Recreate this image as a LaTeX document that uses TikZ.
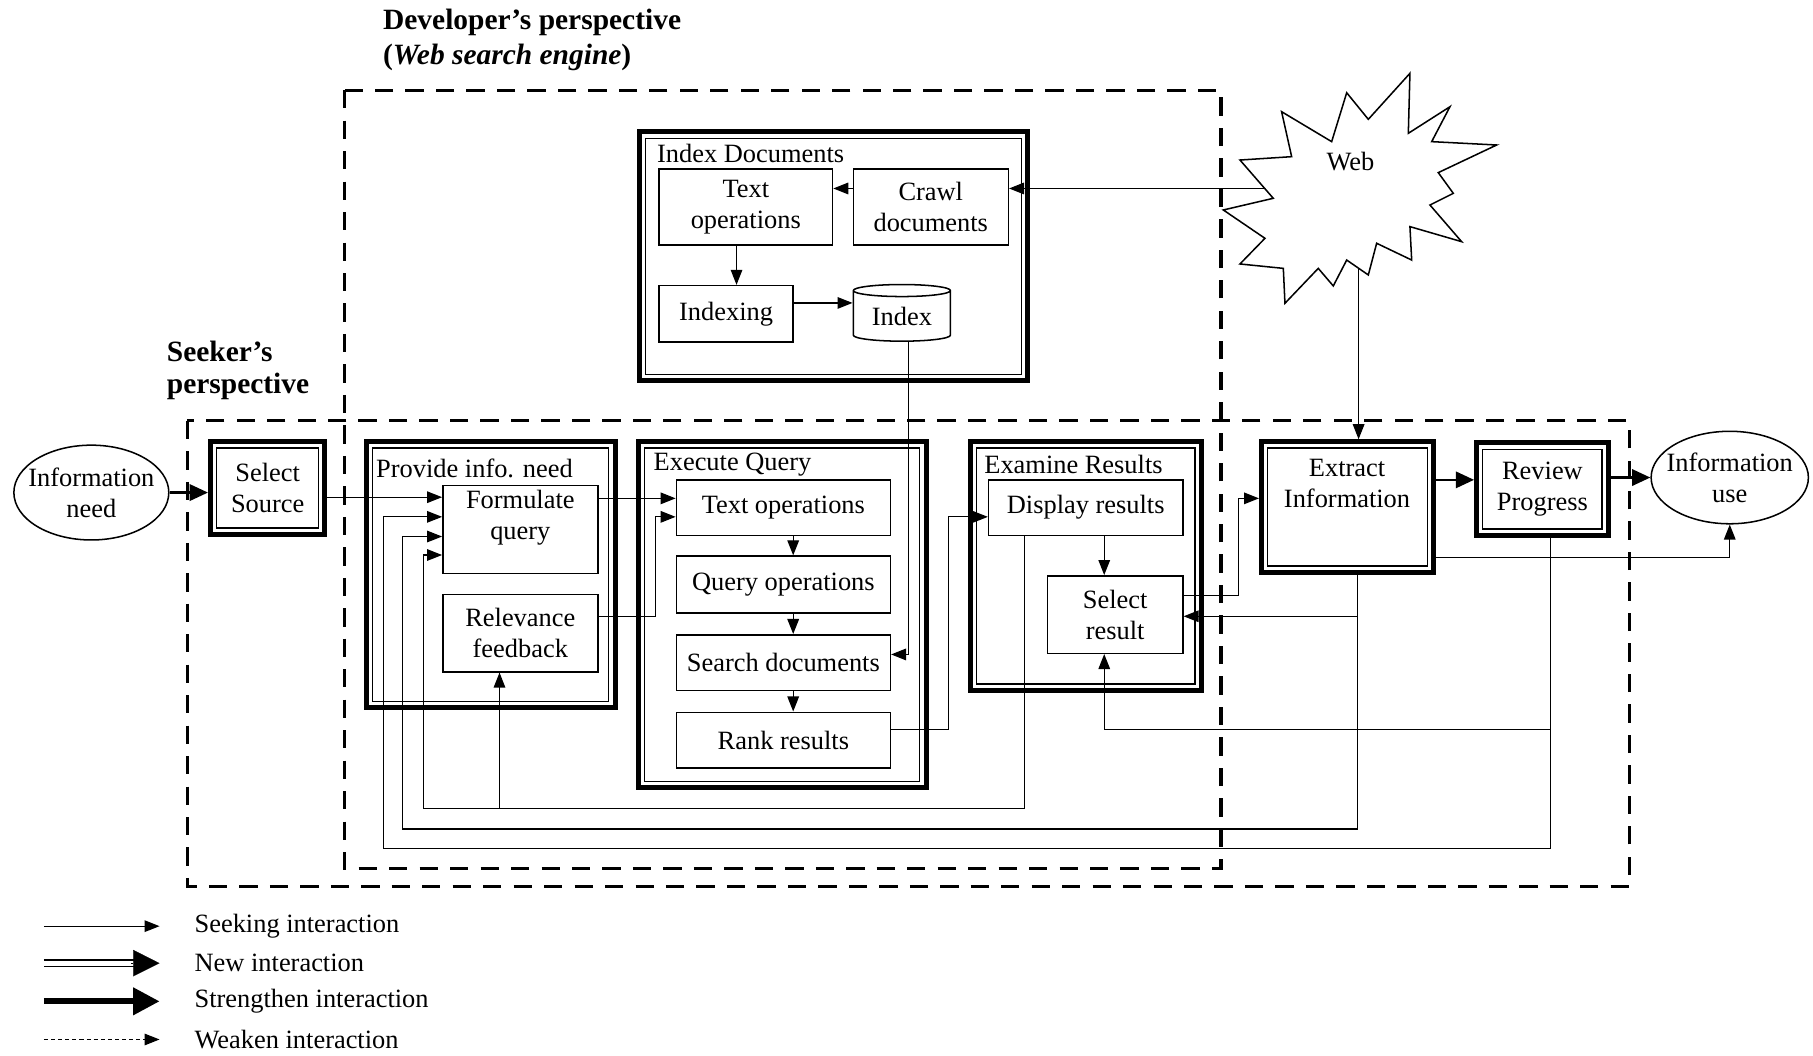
\documentclass[tikz,border=0pt]{standalone}
\usepackage{fontspec}
\setmainfont{Liberation Serif}
\usetikzlibrary{arrows.meta,fit,shapes.geometric}
\newlength\unitpx
\setlength\unitpx{0.02cm}

\begin{document}
\begin{tikzpicture}[
  x=0.02cm, y=-0.02cm,
  font=\fontsize{13}{15.3}\selectfont,
  every node/.style={inner sep=0pt},
  wh/.style 2 args={minimum width=#1*\unitpx, minimum height=#2*\unitpx},
  box/.style={draw, line width=0.75pt, align=center},
  dbox/.style={draw, line width=2.4pt, align=center,
    path picture={\draw[line width=0.6pt]
      ([shift={(3.1pt,-3.1pt)}]path picture bounding box.north west) rectangle
      ([shift={(-3.1pt,3.1pt)}]path picture bounding box.south east);}},
  oval/.style={draw, ellipse, line width=0.75pt, align=center, inner xsep=-5pt},
  title/.style={anchor=west, font=\fontsize{14.5}{17}\selectfont\bfseries},
  frame/.style={line width=1.5pt, dash pattern=on 9pt off 6pt},
  seeking/.style={line width=0.6pt, -{Triangle[length=7.4pt,width=5.7pt]}},
  strong/.style={line width=1.3pt, -{Triangle[length=9pt,width=8pt]}},
  weaken/.style={seeking, dash pattern=on 2pt off 1.5pt}
]
\useasboundingbox (0,0) rectangle (1568,913);

% perspectives
\draw[frame] (298,78) rectangle (1056,751);
\draw[frame] (162,364) rectangle (1409,767);
\node[title] (devt) at (331,19) {Developer's perspective};
\node[title] (devs) at (331,50) {(\textit{Web search engine})};
\node[title] (seekt) at (144,304) {Seeker's};
\node[title] (seeks) at (144,334) {perspective};

% web
\draw[line width=0.75pt] (1219.4,63.4) -- (1218,115.3) -- (1254,92.3) -- (1238.2,122.5)
  -- (1294.4,125.4) -- (1243.9,149.3) -- (1256.9,167.2) -- (1236.7,177.3) -- (1264.1,209)
  -- (1219.4,196) -- (1220.9,224.9) -- (1190.6,210.4) -- (1183.4,237.8) -- (1164.7,224.9)
  -- (1153.1,247.3) -- (1140.1,232.1) -- (1111.3,262.3) -- (1109.9,232.1) -- (1072.4,228.3)
  -- (1094,206.1) -- (1058,181.6) -- (1101.2,171.5) -- (1072.4,138.4) -- (1117.1,135.5)
  -- (1108.4,96.6) -- (1151.7,122.5) -- (1164.7,80.2) -- (1183.4,103.2) -- cycle;
\node (web) at (1168,140) {Web};
\coordinate (web-w) at (1094,163);
\coordinate (web-s) at (1175,232);

% index documents
\node[dbox, fit={(553,114) (889,329)}] (idx) {};
\node[anchor=west] (idx-t) at (568,133) {Index Documents};
\node[box, wh={150}{66}] (top1) at (645,179) {Text\\operations};
\node[box, wh={134}{66}] (crawl) at (805,179) {Crawl\\documents};
\node[box, wh={116}{49}] (indexing) at (628,271.5) {Indexing};
\node[draw, line width=0.75pt, cylinder, shape border rotate=90, aspect=0.2,
  wh={84}{49}] (index) at (780,273.5) {Index};

% seeker's side
\node[oval, wh={134}{82}] (need) at (79,426) {Information\\need};
\node[dbox, wh={99}{80}] (src) at (231.5,422) {Select\\Source};
\node[dbox, fit={(317,382) (532,612)}] (prov) {};
\node[anchor=west] (prov-t) at (325,405) {Provide info. need};
\node[box, fit={(383,420) (517,496)}] (fq) {};
\node[align=center] (fq-t) at (450,448) {Formulate\\query};
\node[box, wh={134}{67}] (rf) at (450,547.5) {Relevance\\feedback};

\node[dbox, fit={(552,382) (801,681)}] (exq) {};
\node[anchor=west] (exq-t) at (565,402) {Execute Query};
\node[box, wh={185}{48}] (top2) at (677.5,439) {Text operations};
\node[box, wh={185}{49}] (qop) at (677.5,505.5) {Query operations};
\node[box, wh={185}{48}] (sdoc) at (677.5,573) {Search documents};
\node[box, wh={185}{48}] (rank) at (677.5,640) {Rank results};

\node[dbox, fit={(839,382) (1039,597)}] (exr) {};
\node[anchor=west] (exr-t) at (851,402) {Examine Results};
\node[box, wh={168}{48}] (disp) at (939,439) {Display results};
\node[box, wh={117}{67}] (sel) at (964.5,531.5) {Select\\result};

\node[dbox, fit={(1091,382) (1240,495)}] (ext) {};
\node[align=center] (ext-t) at (1165,418) {Extract\\Information};
\node[dbox, wh={114}{80}] (rev) at (1334,423) {Review\\Progress};
\node[oval, wh={136}{80}] (use) at (1496,413) {Information\\use};

% interactions
\draw[strong] (need) -- (need -| src.west);
\draw[seeking] (src.east |- 0,430) -- (fq.west |- 0,430);
\draw[seeking] (fq.east |- 0,431) -- (top2.west |- 0,431);
\draw[seeking] (rf.east |- 0,533) -| (567,447) -- (top2.west |- 0,447);
\foreach \a/\b in {top2/qop, qop/sdoc, sdoc/rank}
  \draw[seeking] (\a.south -| 686,0) -- (\b.north -| 686,0);
\draw[seeking] (index.south -| 786,0) |- (sdoc.east |- 0,566);
\draw[seeking] (rank.east |- 0,631) -| (820,447) -- (disp.west |- 0,447);
\draw[seeking] (disp.south -| 955,0) -- (sel.north -| 955,0);
\draw[seeking] (sel.east |- 0,515) -| (1071,431) -- (ext.west |- 0,431);
\draw[strong] (ext.east |- 0,415) -- (rev.west |- 0,415);
\draw[strong] (rev.east |- use) -- (use);
\draw[seeking] (ext.east |- 0,482) -| (use.south);
\draw[seeking] (web-w) -- (web-w -| crawl.east);
\draw[seeking] (crawl.west |- 0,163) -- (top1.east |- 0,163);
\draw[seeking] (top1.south -| 637,0) -- (indexing.north -| 637,0);
\draw[seeking] (indexing.east |- 0,262) -- (index.west |- 0,262);
\draw[seeking] (web-s) -- (web-s |- ext.north);
\draw[seeking] (ext.south -| 1174,0) |- (sel.east |- 0,533);
\draw[seeking] (disp.south -| 886,0) |- (366,699) |- (fq.west |- 0,480);
\coordinate (rf-in) at (432,699);
\draw[seeking] (rf-in) -- (rf.south -| rf-in);
\draw[seeking] (ext.south -| 1174,0) |- (348,717) |- (fq.west |- 0,464);
\draw[seeking] (rev.south -| 1341,0) |- (332,734) |- (fq.west |- 0,447);
\coordinate (sel-in) at (1341,631);
\draw[seeking] (sel-in) -| (sel.south -| 955,0);

% legend
\foreach \yy/\tx [count=\i] in {801/Seeking interaction, 833/New interaction,
    866/Strengthen interaction, 899/Weaken interaction}
{
  \coordinate (lgs\i) at (38,\yy);
  \coordinate (lge\i) at (138,\yy);
  \node[anchor=west] (lg\i) at (168,\yy) {\tx};
}
\draw[seeking] (lgs1) -- (lge1);
\draw[double, double distance=2.3pt, line width=0.7pt, shorten >=11pt] (lgs2) -- (lge2);
\draw[line width=0.1pt, -{Triangle[length=13pt,width=13pt]}] ([xshift=-14pt]lge2) -- (lge2);
\draw[line width=2.8pt, -{Triangle[length=13pt,width=13pt]}] (lgs3) -- (lge3);
\draw[weaken] (lgs4) -- (lge4);
\end{tikzpicture}
\end{document}
